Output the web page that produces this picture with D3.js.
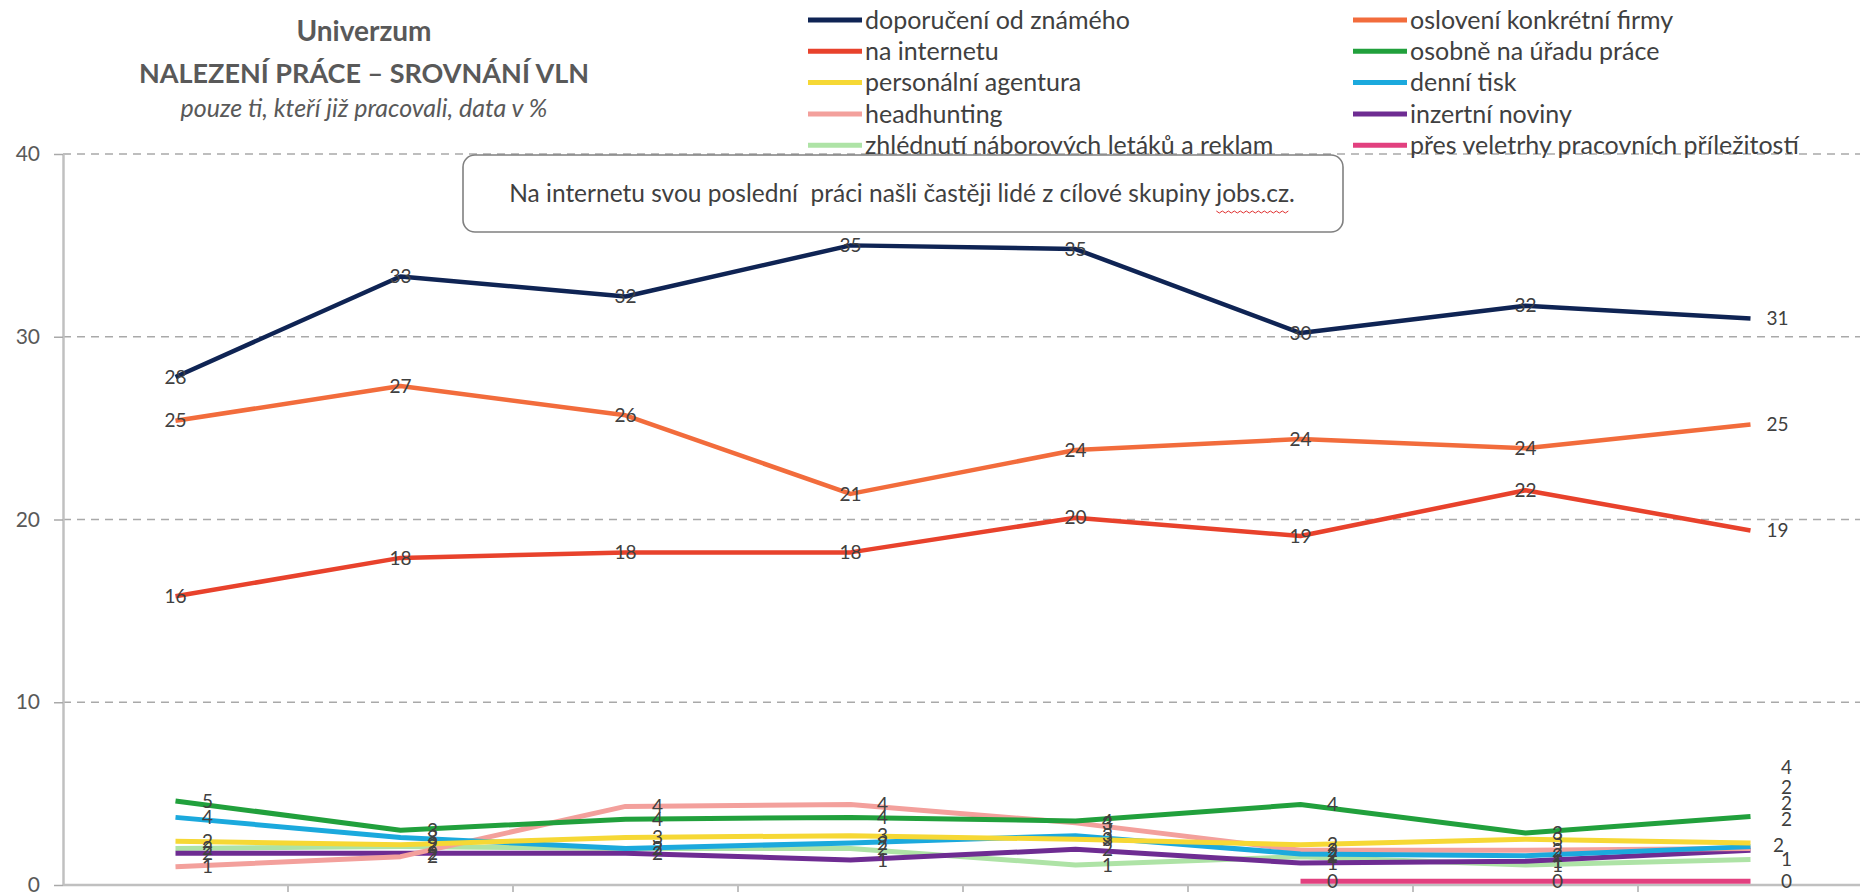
<!DOCTYPE html>
<html><head><meta charset="utf-8">
<script src="https://cdn.jsdelivr.net/npm/d3@7/dist/d3.min.js"></script>
<style>
  html, body { margin: 0; padding: 0; background: #fff; overflow: hidden; }
  svg { display: block; font-family: Lato, "Open Sans", sans-serif; }
</style>
</head><body>
<svg id="chart" width="1860" height="892"></svg>
<script>
// waves of the survey (x categories; their labels sit below the cropped frame)
const WAVES = ["1", "2", "3", "4", "5", "6", "7", "8"];
const Y_TICKS = [0, 10, 20, 30, 40];

// values in %
const DOPORUCENI = [27.8, 33.3, 32.2, 35.0, 34.8, 30.2, 31.7, 31.0];
const OSLOVENI   = [25.4, 27.3, 25.7, 21.4, 23.8, 24.4, 23.9, 25.2];
const INTERNET   = [15.8, 17.9, 18.2, 18.2, 20.1, 19.1, 21.6, 19.4];
const URAD       = [4.6, 3.0, 3.6, 3.7, 3.5, 4.4, 2.85, 3.75];
const AGENTURA   = [2.4, 2.2, 2.6, 2.7, 2.5, 2.2, 2.5, 2.3];
const TISK       = [3.7, 2.6, 2.0, 2.3, 2.7, 1.7, 1.6, 2.1];
const HEADHUNT   = [1.0, 1.55, 4.3, 4.4, 3.4, 1.9, 1.9, 2.0];
const INZERTNI   = [1.74, 1.74, 1.74, 1.37, 1.95, 1.2, 1.3, 1.9];
const LETAKY     = [2.0, 2.1, 2.0, 2.0, 1.1, 1.55, 1.1, 1.4];
const VELETRHY   = [null, null, null, null, null, 0.2, 0.2, 0.2];

const SERIES = [
  { name: "doporučení od známého", color: "#0f2454", values: DOPORUCENI, big: true },
  { name: "oslovení konkrétní firmy", color: "#f26c3c", values: OSLOVENI, big: true },
  { name: "na internetu", color: "#e8422c", values: INTERNET, big: true },
  { name: "osobně na úřadu práce", color: "#21a03c", values: URAD },
  { name: "personální agentura", color: "#f6d835", values: AGENTURA },
  { name: "denní tisk", color: "#1ba9dd", values: TISK },
  { name: "headhunting", color: "#f3a09c", values: HEADHUNT },
  { name: "inzertní noviny", color: "#6e2c92", values: INZERTNI },
  { name: "zhlédnutí náborových letáků a reklam", color: "#aee3a6", values: LETAKY },
  { name: "přes veletrhy pracovních příležitostí", color: "#e2407f", values: VELETRHY },
];

const svg = d3.select("#chart");
const M = { l: 63, r: 1863, t: 154, b: 885 };
const x = d3.scaleBand().domain(WAVES).range([M.l, M.r]);
const cx = w => x(w) + x.bandwidth() / 2;
const y = d3.scaleLinear().domain([0, 40]).range([M.b, M.t]);

// ---------- title ----------
const title = svg.append("g").attr("fill", "#595959").attr("text-anchor", "middle");
title.append("text").attr("x", 364).attr("y", 41).attr("font-size", 28).attr("font-weight", 700).text("Univerzum");
title.append("text").attr("x", 364).attr("y", 83).attr("font-size", 27).attr("font-weight", 700).text("NALEZENÍ PRÁCE – SROVNÁNÍ VLN");
title.append("text").attr("x", 364).attr("y", 117).attr("font-size", 25).attr("font-style", "italic").text("pouze ti, kteří již pracovali, data v %");

// ---------- grid + axes ----------
svg.append("g").selectAll("line").data(Y_TICKS.filter(t => t > 0)).join("line")
  .attr("x1", M.l).attr("x2", 1860).attr("y1", d => y(d)).attr("y2", d => y(d))
  .attr("stroke", "#a9a9a9").attr("stroke-width", 1.5).attr("stroke-dasharray", "8,6");

const gy = svg.append("g").attr("transform", `translate(${M.l},0)`)
  .call(d3.axisLeft(y).tickValues(Y_TICKS).tickSize(9).tickPadding(14).tickSizeOuter(0));
gy.select(".domain").attr("stroke", "#c0c0c0").attr("stroke-width", 2.5);
gy.selectAll(".tick line").attr("stroke", "#a9a9a9").attr("stroke-width", 1.5);
gy.selectAll(".tick text").attr("fill", "#595959").attr("font-size", 21).attr("font-family", "Lato, sans-serif");

svg.append("line").attr("x1", M.l).attr("x2", 1860).attr("y1", M.b).attr("y2", M.b)
  .attr("stroke", "#c0c0c0").attr("stroke-width", 2.5);
svg.append("g").selectAll("line").data(d3.range(1, WAVES.length)).join("line")
  .attr("x1", i => x(WAVES[i])).attr("x2", i => x(WAVES[i]))
  .attr("y1", M.b).attr("y2", M.b + 10).attr("stroke", "#c0c0c0").attr("stroke-width", 2);

// ---------- lines ----------
const line = d3.line().defined(d => d.v != null).x(d => cx(d.w)).y(d => y(d.v));
const pts = s => s.values.map((v, i) => ({ w: WAVES[i], v }));
svg.append("g").selectAll("path").data(SERIES.slice().reverse()).join("path")
  .attr("d", s => line(pts(s))).attr("fill", "none")
  .attr("stroke", s => s.color).attr("stroke-width", s => s.big ? 4.5 : 5)
  .attr("stroke-linejoin", "round").attr("stroke-linecap", "butt");

// ---------- data labels ----------
const gl = svg.append("g").attr("fill", "#404040").attr("font-size", 19);
const last = WAVES.length - 1;
SERIES.forEach(s => {
  const p = pts(s).filter(d => d.v != null);
  p.forEach(d => {
    const isLast = d.w === WAVES[last];
    if (s.big) {
      gl.append("text").attr("x", cx(d.w) + (isLast ? 16 : 0)).attr("y", y(d.v)).attr("dy", "0.35em")
        .attr("text-anchor", isLast ? "start" : "middle").text(Math.round(d.v));
    } else if (!isLast) {
      gl.append("text").attr("x", cx(d.w) + 32).attr("y", y(d.v)).attr("dy", "0.35em")
        .attr("text-anchor", "middle").text(Math.round(d.v));
    }
  });
});
// end labels of the small series, pushed apart so they stay readable
const GAPS = [0, 14, 14, 26, 16, 16, 20];
const ends = SERIES.filter(s => !s.big).map(s => ({ v: s.values[last] })).sort((a, b) => a.v - b.v);
let prev = Infinity;
ends.forEach((e, i) => {
  const yy = Math.min(y(e.v), prev - GAPS[i]);
  prev = yy;
  gl.append("text").attr("x", cx(WAVES[last]) + (i === 2 ? 28 : 36)).attr("y", yy).attr("dy", "0.35em")
    .attr("text-anchor", "middle").text(Math.round(e.v));
});

// ---------- legend ----------
const lg = svg.append("g").attr("font-size", 25).attr("fill", "#404040");
SERIES.forEach((s, i) => {
  const col = i % 2, row = Math.floor(i / 2);
  const lx = col ? 1353 : 808, ly = 20 + row * 31.3;
  lg.append("line").attr("x1", lx).attr("x2", lx + 54).attr("y1", ly).attr("y2", ly)
    .attr("stroke", s.color).attr("stroke-width", 5);
  lg.append("text").attr("x", lx + 57).attr("y", ly).attr("dy", "0.35em").text(s.name);
});

// ---------- annotation ----------
const note = svg.append("g");
note.append("rect").attr("x", 463).attr("y", 155).attr("width", 880).attr("height", 77).attr("rx", 12)
  .attr("fill", "#fff").attr("stroke", "#808080").attr("stroke-width", 1.6);
const NOTE = "Na internetu svou poslední  práci našli častěji lidé z cílové skupiny jobs.cz.";
const nt = note.append("text").attr("x", 902).attr("y", 193).attr("dy", "0.35em").attr("text-anchor", "middle")
  .attr("font-size", 24.5).attr("fill", "#404040").attr("xml:space", "preserve").style("white-space", "pre").text(NOTE);
const node = nt.node(), total = node.getComputedTextLength();
const i0 = NOTE.indexOf("jobs.cz");
const sx = 902 - total / 2 + node.getSubStringLength(0, i0), sw = node.getSubStringLength(i0, 7);
const zz = d3.range(0, Math.floor(sw / 3) + 1).map(k => [sx + k * 3, 211 + (k % 2 ? 2 : 0)]);
note.append("path").attr("d", d3.line()(zz)).attr("fill", "none").attr("stroke", "#e03030").attr("stroke-width", 1);
</script>
</body></html>
